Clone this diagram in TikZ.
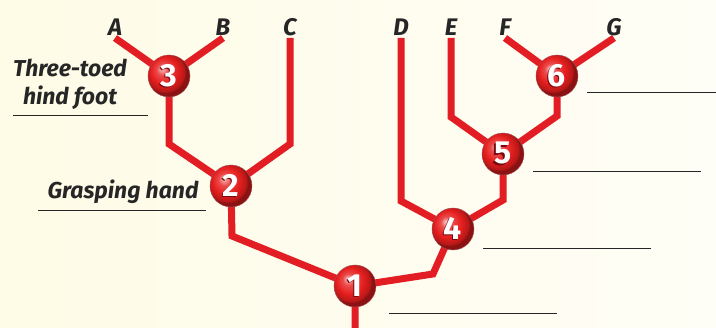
\documentclass[tikz,border=0pt]{standalone}
\usepackage{fontspec}
\setmainfont{Fira Sans}
\usetikzlibrary{positioning,backgrounds}
\definecolor{branchred}{RGB}{226,30,36}
\definecolor{ballred}{RGB}{230,30,30}
\definecolor{shadered}{RGB}{120,10,15}
\definecolor{paperleft}{RGB}{254,251,230}
\definecolor{paperright}{RGB}{255,254,246}
\pgfdeclareradialshading{redball}{\pgfpoint{-9bp}{9bp}}{%
  color(0bp)=(ballred!25!white); color(7bp)=(ballred!80!white);
  color(16bp)=(ballred); color(23bp)=(ballred!80!black);
  color(25bp)=(ballred!60!black); color(50bp)=(ballred!60!black)}
\newcommand{\ballnum}[1]{\makebox[0pt][l]{\hspace{-1.5pt}\raisebox{-1.5pt}{\color{shadered}#1}}#1}
\tikzset{
  x=1pt, y=-1pt,
  branch/.style={line width=7pt, color=branchred, line join=miter},
  ball/.style={circle, minimum size=42pt, inner sep=0pt, shading=redball,
    draw=shadered!70, line width=0.4pt, text=white, font=\bfseries\fontsize{32}{32}\selectfont},
  tip/.style={font=\bfseries\itshape\fontsize{24}{24}\selectfont, text=black!85, inner sep=1pt},
  trait/.style={font=\bfseries\itshape\fontsize{23}{28}\selectfont, text=black!85, align=center},
  blank/.style={line width=1pt, color=black!85}
}
\begin{document}
\begin{tikzpicture} %Cladograma
        \useasboundingbox (0,0) rectangle (716,328);

        \coordinate (tA) at (115,38);
        \coordinate (tB) at (223,38);
        \coordinate (tC) at (290,38);
        \coordinate (tD) at (401,38);
        \coordinate (tE) at (451,38);
        \coordinate (tF) at (505,38);
        \coordinate (tG) at (614,38);
        \coordinate (root) at (355,328);

        \coordinate (k3) at (169,144);
        \coordinate (kC) at (290,144);
        \coordinate (k2) at (232,236);
        \coordinate (k1) at (433,274);
        \coordinate (kD) at (401,201);
        \coordinate (k4) at (503,200);
        \coordinate (kE) at (451,117);
        \coordinate (k5) at (557,116);

        \node[ball] (n1) at (355,286) {\ballnum{1}};
        \node[ball] (n2) at (231,186) {\ballnum{2}};
        \node[ball] (n3) at (169,76) {\ballnum{3}};
        \node[ball] (n4) at (453,229) {\ballnum{4}};
        \node[ball] (n5) at (503,154) {\ballnum{5}};
        \node[ball] (n6) at (557,76) {\ballnum{6}};

        \node[tip, above=1pt of tA] (A) {A};
        \node[tip, above=1pt of tB] (B) {B};
        \node[tip, above=1pt of tC] (C) {C};
        \node[tip, above=1pt of tD] (D) {D};
        \node[tip, above=1pt of tE] (E) {E};
        \node[tip, above=1pt of tF] (F) {F};
        \node[tip, above=1pt of tG] (G) {G};

        \node[trait] (toes) at (70,84) {Three-toed\\hind foot};
        \node[trait, anchor=base] (hand) at (123,199) {Grasping hand};

        \begin{scope}[on background layer]
        \fill[left color=paperleft, right color=paperright] (0,0) rectangle (716,328);
        \draw[branch] (tA) -- (n3.center) -- (tB);
        \draw[branch] (n3.center) -- (k3) -- (n2.center);
        \draw[branch] (tC) -- (kC) -- (n2.center);
        \draw[branch] (n2.center) -- (k2) -- (n1.center);
        \draw[branch] (root) -- (n1.center) -- (k1) -- (n4.center);
        \draw[branch] (tD) -- (kD) -- (n4.center);
        \draw[branch] (n4.center) -- (k4) -- (n5.center);
        \draw[branch] (tE) -- (kE) -- (n5.center);
        \draw[branch] (n5.center) -- (k5) -- (n6.center);
        \draw[branch] (tF) -- (n6.center) -- (tG);
        \end{scope}

        \draw[blank] (13,116) -- (148,116);
        \draw[blank] (38,211) -- (206,211);
        \draw[blank] (587,93) -- (716,93);
        \draw[blank] (533,172) -- (701,172);
        \draw[blank] (483,249) -- (651,249);
        \draw[blank] (389,314) -- (557,314);
    \end{tikzpicture}
\end{document}
